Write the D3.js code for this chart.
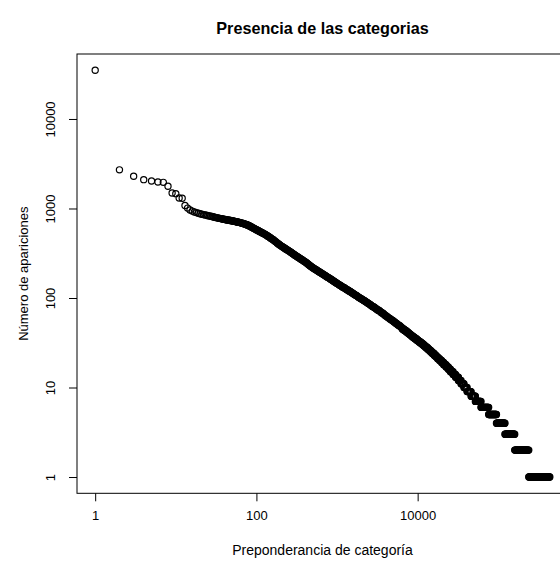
<!DOCTYPE html>
<html>
<head>
<meta charset="utf-8">
<script src="https://cdn.jsdelivr.net/npm/d3@7"></script>
<style>
  body { margin: 0; background: #fff; }
  svg { display: block; }
  text { font-family: "Liberation Sans", Arial, Helvetica, sans-serif; fill: #000; }
</style>
</head>
<body>
<svg id="grafico" width="560" height="561"></svg>
<script>
// Las 40 categorías más frecuentes, una a una
const rangosPrincipales = [1,2,3,4,5,6,7,8,9,10,11,12,13,14,15,16,17,18,19,20,
  21,22,23,24,25,26,27,28,29,30,31,32,33,34,35,36,37,38,39,40];
const conteosPrincipales = [35000,2700,2290,2100,2030,1980,1960,1770,1490,1465,
  1310,1300,1080,1010,960,935,915,900,885,872,862,855,848,840,832,826,820,813,807,800,
  795,790,785,780,775,771,767,763,759,755];

// Tramo central: categorías de rango intermedio
const rangosTramo = [41,42,43,44,45,46,47,48,49,50,51,52,53,54,55,56,57,58,59,60,61,62,64,65,67,68,70,71,73,74,76,77,79,80,82,83,85,86,88,90,92,94,96,98,
  100,102,104,106,108,110,112,114,116,118,120,123,126,128,130,133,136,138,140,143,146,148,151,154,157,160,163,166,169,172,176,179,182,186,190,193,196,200,
  204,208,212,216,220,224,228,232,236,241,245,250,255,260,265,270,275,280,285,290,295,300,306,312,318,324,330,336,342,348,354,361,368,375,382,390,397,405,412,420,427,435,442,450,
  458,467,476,485,494,503,512,522,532,542,552,563,574,585,596,607,618,630,642,654,666,679,692,705,718,732,746,760,774,789,804,819,834,850,866,882,898,915,932,950,968,986,
  1004,1023,1042,1062,1082,1102,1123,1144,1165,1187,1209,1232,1255,1279,1303,1327,1352,1377,1403,1429,1456,1483,1511,1539,1568,1597,1627,1657,1688,1720,1752,1785,1818,1852,1887,1922,1958,1995,
  2032,2070,2109,2148,2188,2229,2271,2313,2356,2400,2445,2490,2537,2584,2632,2681,2731,2782,2834,2886,2940,2994,3050,3107,3165,3224,3284,3345,3407,3470,3535,3600,3667,3735,3805,3875,3947,
  4020,4095,4170,4247,4325,4405,4485,4567,4650,4735,4820,4910,5000,5095,5190,5287,5385,5485,5585,5690,5795,5900,6010,6120,6235,6340,6450];
const conteosTramo = [752,749,746,743,740,738,735,733,730,728,725,722,720,717,714,711,709,706,704,702,699,696,691,688,683,681,676,673,668,663,659,654,649,645,639,634,628,623,617,610,603,597,591,585,
  580,574,568,563,558,553,548,544,539,535,530,524,518,514,509,504,497,492,488,482,477,472,466,460,455,450,444,438,432,427,421,416,410,405,399,394,390,385,
  380,376,372,368,364,360,356,353,349,345,342,338,334,330,326,322,318,315,311,308,304,301,298,294,291,288,285,282,279,276,273,270,267,264,261,258,255,252,249,246,243,240,237,234,
  231,228,225,222,220,217,215,213,210,208,206,204,201,199,197,195,193,191,189,187,185,183,181,179,177,175,173,171,170,168,166,164,162,161,159,157,155,154,152,150,148,147,
  145,144,142,141,139,138,136,135,133,132,131,130,128,127,125,124,123,122,120,119,118,117,115,114,113,112,110,109,108,107,106,105,103,102,101,100,99,98,
  97,96,95,94,93,92,91,90,89,88,87,86,85,84,83,82,81,80,80,79,78,77,76,75,74,73,73,72,71,70,69,68,68,67,66,65,64,
  63,63,62,61,60,60,59,58,58,57,56,56,55,54,54,53,52,52,51,50,50,49,49,48,47,47,46];

// Cola: número de apariciones y último rango que lo comparte
const nivelesCola = [45,44,43,42,41,40,39,38,37,36,35,34,33,32,31,30,29,28,27,26,25,24,23,22,21,
  20,19,18,17,16,15,14,13,12,11,10,9,8,7,6,5,4,3,2,1];
const rangoFinNivel = [6700,6950,7200,7450,7700,7950,8250,8550,8900,9250,9650,10050,10500,11000,11500,
  12000,12600,13200,13800,14500,15200,16000,16800,17700,18700,19800,21000,22500,24000,25500,
  27500,29500,32000,34500,37500,41000,46000,52000,61000,76000,95000,121000,160000,239000,436000];

const ticksX = [1, 100, 10000];
const ticksY = [1, 10, 100, 1000, 10000];

const titulo = "Presencia de las categorias";
const tituloX = "Preponderancia de categoría";
const tituloY = "Número de apariciones";

// Región del gráfico
const izq = 77, arriba = 54, abajo = 493.3, der = 568;

const svg = d3.select("#grafico");

const totalCategorias = rangoFinNivel[rangoFinNivel.length - 1];
const maxConteo = d3.max(conteosPrincipales);

// Escalas logarítmicas con un margen del 4 % en cada extremo
const lx = Math.log10(totalCategorias), padX = 0.04 * lx;
const ly = Math.log10(maxConteo), padY = 0.04 * ly;
const x = d3.scaleLog().domain([Math.pow(10, -padX), Math.pow(10, lx + padX)]).range([izq, der]);
const y = d3.scaleLog().domain([Math.pow(10, -padY), Math.pow(10, ly + padY)]).range([abajo, arriba]);

// Puntos
const puntos = [];
rangosPrincipales.forEach((r, i) => puntos.push({ rango: r, conteo: conteosPrincipales[i] }));
rangosTramo.forEach((r, i) => puntos.push({ rango: r, conteo: conteosTramo[i] }));

// Cada nivel de la cola abarca un tramo de rangos con el mismo número de apariciones
let inicio = rangosTramo[rangosTramo.length - 1] + 1;
nivelesCola.forEach((c, i) => {
  const fin = rangoFinNivel[i];
  const ancho = x(fin) - x(inicio);
  const n = Math.max(1, Math.ceil(ancho / 0.4));
  for (let k = 0; k <= n; k++) {
    const r = Math.round(inicio * Math.pow(fin / inicio, k / n));
    puntos.push({ rango: r, conteo: c });
  }
  inicio = fin + 1;
});

const capaPuntos = svg.append("g");
capaPuntos.selectAll("circle")
  .data(puntos)
  .join("circle")
  .attr("cx", d => x(d.rango))
  .attr("cy", d => y(d.conteo))
  .attr("r", 3.1)
  .attr("fill", "none")
  .attr("stroke", "#000")
  .attr("stroke-width", 1.2);

// Marco
svg.append("rect")
  .attr("x", izq).attr("y", arriba)
  .attr("width", der - izq).attr("height", abajo - arriba)
  .attr("fill", "none").attr("stroke", "#000").attr("stroke-width", 1);

// Eje X
const ejeX = svg.append("g")
  .attr("transform", `translate(0,${abajo})`)
  .call(d3.axisBottom(x).tickValues(ticksX).tickFormat(d3.format("d")).tickSize(8).tickPadding(9.5));
ejeX.select(".domain").remove();
ejeX.selectAll("line").attr("stroke", "#000");
ejeX.selectAll("text").style("font-size", "13px").attr("fill", "#000");

// Eje Y con etiquetas verticales
const ejeY = svg.append("g")
  .attr("transform", `translate(${izq},0)`)
  .call(d3.axisLeft(y).tickValues(ticksY).tickFormat(d3.format("d")).tickSize(8));
ejeY.select(".domain").remove();
ejeY.selectAll("line").attr("stroke", "#000");
ejeY.selectAll("text")
  .style("font-size", "13px")
  .attr("fill", "#000")
  .attr("transform", "rotate(-90)")
  .attr("x", 0)
  .attr("y", -(izq - 55))
  .attr("dy", 0)
  .attr("text-anchor", "middle");

// Títulos
svg.append("text")
  .attr("x", (izq + der) / 2).attr("y", 34)
  .attr("text-anchor", "middle")
  .style("font-size", "16.2px").style("font-weight", "bold")
  .text(titulo);

svg.append("text")
  .attr("x", (izq + der) / 2).attr("y", 555)
  .attr("text-anchor", "middle")
  .style("font-size", "14px")
  .text(tituloX);

svg.append("text")
  .attr("transform", `translate(28,${(arriba + abajo) / 2}) rotate(-90)`)
  .attr("text-anchor", "middle")
  .style("font-size", "13px")
  .text(tituloY);
</script>
</body>
</html>
